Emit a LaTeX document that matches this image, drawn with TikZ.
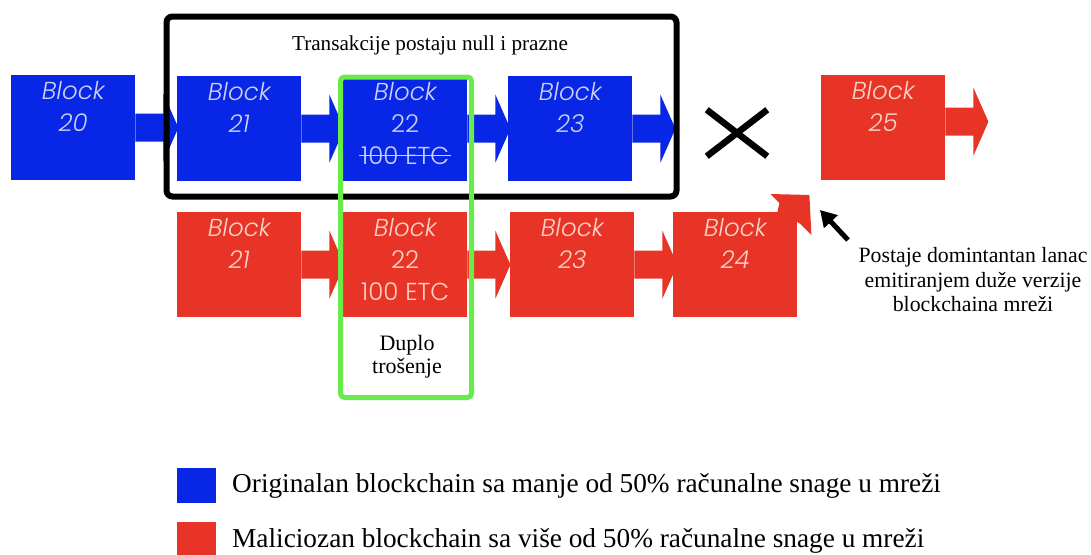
\documentclass[tikz,border=0pt]{standalone}
\usepackage{fontspec}
\setmainfont{Liberation Serif}
\newfontfamily\blockfont{Poppins Light}
\usetikzlibrary{arrows.meta,shapes.misc,positioning}

\definecolor{chainblue}{RGB}{8,38,230}
\definecolor{chainred}{RGB}{232,52,38}
\definecolor{bluetext}{RGB}{205,208,245}
\definecolor{redtext}{RGB}{250,210,198}
\definecolor{framegreen}{RGB}{105,235,75}

\tikzset{
  block/.style={fill=#1, anchor=north west, minimum width=124pt,
    minimum height=105pt, inner sep=0pt},
  blocktext/.style={text=#1, anchor=north, align=center, inner sep=0pt,
    font=\blockfont\itshape\fontsize{24.5}{32}\selectfont},
  legendbox/.style={fill=#1, anchor=north west, minimum width=39pt,
    minimum height=35pt, inner sep=0pt},
  serif/.style={font=\fontsize{#1}{24.5}\selectfont, inner sep=0pt},
}

\begin{document}
\begin{tikzpicture}[x=1pt, y=-1pt]
  \useasboundingbox (0,0) rectangle (1091,554);
  % originalni lanac
  \node[block=chainblue] (b20) at (11,75) {};
  \node[block=chainblue] (b21) at (177,76) {};
  \node[block=chainblue] (b22) at (343,76) {};
  \node[block=chainblue] (b23) at (508,76) {};
  % maliciozni lanac
  \node[block=chainred] (r21) at (177,212) {};
  \node[block=chainred] (r22) at (343,212) {};
  \node[block=chainred] (r23) at (510,212) {};
  \node[block=chainred] (r24) at (673,212) {};
  \node[block=chainred] (b25) at (821,75) {};
  \foreach \b/\c/\dy in {b20/chainblue/0, b21/chainblue/0, b22/chainblue/0,
    b23/chainblue/0, r21/chainred/0, r22/chainred/0, r23/chainred/0,
    b25/chainred/6}
    \fill[\c, shift={(\b.east)}, yshift=\dy pt]
      (0,-14) -- (28,-14) -- (28,-34) -- (43,0) -- (28,34) -- (28,14)
      -- (0,14) -- cycle;
  \fill[chainred, shift={(r24.north east)}]
    (-20,0) -- (-18,-9) -- (-27,-18) -- (12,-17) -- (14,23) -- (3,12)
    -- (0,10) -- cycle;
  % natpisi blokova
  \node[blocktext=bluetext] (t20) [below=6pt of b20.north] {Block\\20};
  \node[blocktext=bluetext] (t21) [below=6pt of b21.north] {Block\\21};
  \node[blocktext=bluetext] (t22) [below=6pt of b22.north]
       {Block\\\upshape 22};
  \node[blocktext=bluetext, anchor=base,
    font=\blockfont\fontsize{24.5}{32}\selectfont] (etc)
       at ([yshift=-88pt]b22.north) {100 ETC};
  \draw[bluetext, line width=1.3pt] ([xshift=-2pt]etc.west)
       -- ([xshift=2pt]etc.east);
  \node[blocktext=bluetext] (t23) [below=6pt of b23.north] {Block\\23};
  \node[blocktext=redtext] (s21) [below=6pt of r21.north] {Block\\21};
  \node[blocktext=redtext] (s22) [below=6pt of r22.north]
       {Block\\\upshape 22\\\upshape 100 ETC};
  \node[blocktext=redtext] (s23) [below=6pt of r23.north] {Block\\23};
  \node[blocktext=redtext] (s24) [below=6pt of r24.north] {Block\\24};
  \node[blocktext=redtext] (s25) [below=6pt of b25.north] {Block\\25};
  % okviri
  \node[draw, line width=6pt, rounded corners=6pt, minimum width=510pt,
    minimum height=180pt, inner sep=0pt] (nullframe) at (421.5,106.5) {};
  \node[draw=framegreen, line width=5pt, rounded corners=4pt,
    minimum width=131pt, minimum height=320.5pt, inner sep=0pt]
    (spendframe) at (406,237.25) {};
  \node[serif=21.2, anchor=base] (title) at (430,50)
       {Transakcije postaju null i prazne};
  \node[serif=22, align=center, font=\fontsize{22}{23}\selectfont]
       (dup) at (407,357) {Duplo\\trošenje};
  \node[cross out, draw, line width=6.5pt, minimum width=54pt,
    minimum height=40pt, inner sep=0pt] (cross) at (737,133) {};
  % dominantni lanac
  \node[serif=21.8, align=center] (note) at (973,280)
       {Postaje domintantan lanac\\emitiranjem duže verzije\\blockchaina mreži};
  \coordinate (tail) at (848,240);
  \coordinate (tip) at (820,210);
  \draw[line width=5pt, -{Triangle[length=16pt,width=18pt]}] (tail) -- (tip);
  % legenda
  \node[legendbox=chainblue] (leg1) at (177,468) {};
  \node[legendbox=chainred] (leg2) at (177,522) {};
  \node[serif=27.3, anchor=base west] (txt1) at (232,492)
       {Originalan blockchain sa manje od 50\% računalne snage u mreži};
  \node[serif=27.3, anchor=base west] (txt2) at (232,547)
       {Maliciozan blockchain sa više od 50\% računalne snage u mreži};
\end{tikzpicture}
\end{document}
